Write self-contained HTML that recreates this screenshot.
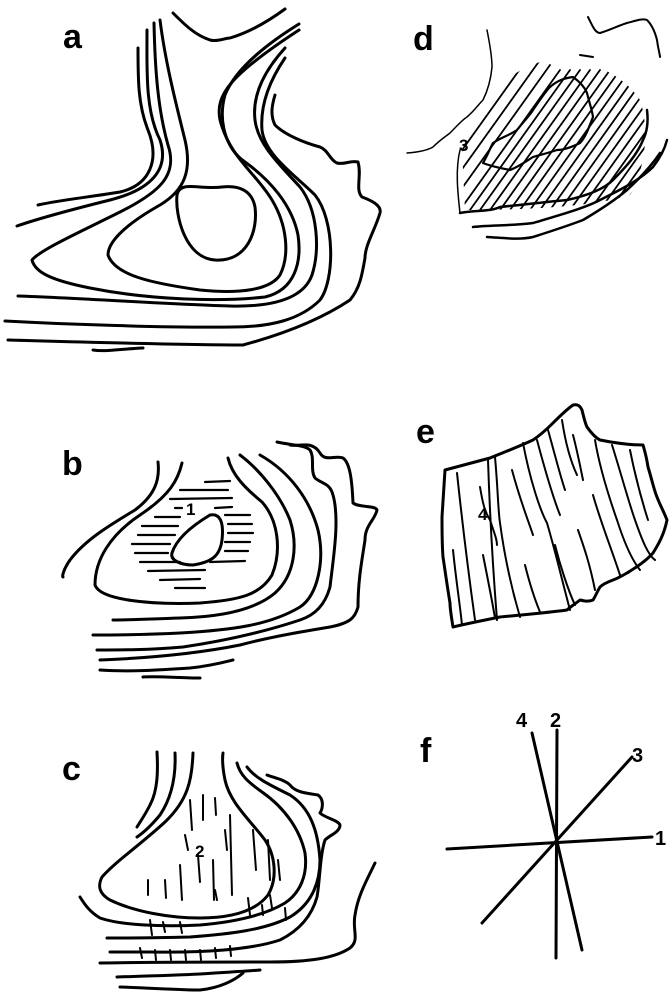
<!DOCTYPE html>
<html><head><meta charset="utf-8"><style>
html,body{margin:0;padding:0;background:#fff}
svg{display:block}
text{font-family:"Liberation Sans",sans-serif;font-weight:bold;fill:#000}
</style></head><body>
<svg width="672" height="1000" viewBox="0 0 672 1000" xmlns="http://www.w3.org/2000/svg">
<defs>
<clipPath id="dc"><path d="M462,150 C470,110 500,75 540,62 C580,55 620,70 640,100 C650,130 645,170 630,195 C600,205 540,210 465,210 Z"/></clipPath>
</defs>
<g fill="none" stroke="#000" stroke-width="3" stroke-linecap="round" stroke-linejoin="round">
<!-- panel a -->
<path d="M177,195 C175,215 185,258 215,260 C248,262 258,230 255,207 C252,190 238,185 222,187 C200,190 180,180 177,195Z"/>
<path d="M138,48 C138,80 138,105 148,130 C160,160 150,185 120,192 C90,197 60,200 38,205"/>
<path d="M147,30 C147,70 145,110 160,140 C170,170 150,190 110,200 C70,210 40,218 17,226"/>
<path d="M154,23 C155,70 158,110 168,145 C178,175 160,192 120,212 C80,232 40,250 32,260 C35,272 50,280 90,288 C150,300 220,302 265,297 C295,290 302,262 298,235 C292,205 270,180 245,162 C225,148 218,120 225,95 C235,70 265,45 299,24"/>
<path d="M160,20 C165,60 175,100 185,140 C192,170 185,190 160,205 C130,222 108,240 108,255 C115,275 150,283 200,290 C240,294 270,290 280,275 C290,255 287,225 272,200 C255,172 230,158 220,120 C215,95 230,75 299,30"/>
<path d="M173,13 C185,25 195,35 210,40 C218,42 225,38 230,38 C250,32 270,20 285,9"/>
<path d="M285,48 C265,70 252,95 255,120 C258,145 280,165 300,187 C318,210 320,250 312,275 C303,300 270,307 230,306 C180,305 80,298 18,296"/>
<path d="M285,58 C270,80 260,105 262,130 C265,155 295,175 315,195 C335,220 335,280 320,300 C300,320 270,327 233,327 C170,328 60,324 5,321"/>
<path d="M275,95 C272,105 270,115 275,125 C285,135 305,143 320,147 C328,150 330,160 337,163 C345,165 350,160 358,162 C362,175 355,190 362,197 C370,200 382,205 380,213 C375,230 365,245 365,258 C362,275 360,288 350,300 C320,320 280,335 243,345 C180,345 80,342 8,340"/>
<path d="M93,350 C105,352 120,349 143,348"/>
<!-- panel b -->
<path d="M172,553 C176,540 190,527 210,515 C220,513 224,522 222,540 C220,555 213,562 193,565 C180,565 170,560 172,553Z"/>
<path d="M158,462 C160,480 155,495 135,510 C110,525 85,540 70,560 C63,570 62,577 63,577"/>
<path d="M182,463 C178,480 170,495 140,515 C110,535 95,560 95,585 C100,600 150,605 200,603 C240,600 260,595 272,575 C282,550 278,520 262,502 C245,488 232,475 228,458"/>
<path d="M240,455 C260,470 280,495 290,520 C298,545 295,575 275,593 C255,610 220,617 180,618 C150,619 130,620 113,620"/>
<path d="M260,455 C290,472 310,500 318,530 C325,560 318,595 300,607 C270,625 233,630 180,633 C140,635 110,635 93,635"/>
<path d="M277,442 C290,445 305,445 310,450 C315,458 310,470 315,478 C322,484 330,483 333,495 C340,520 333,560 330,587 C325,605 315,615 300,620 C270,630 230,640 183,647 C150,650 120,650 97,650"/>
<path d="M290,445 C300,447 312,440 320,453 C325,462 335,455 343,458 C350,463 352,480 353,503 C360,508 375,505 377,510 C375,520 365,525 365,540 C362,560 358,580 358,607 C355,618 350,623 330,627 C300,632 270,637 240,645 C200,653 150,658 100,660"/>
<path d="M100,670 C130,672 160,670 190,668 C210,666 225,662 233,660"/>
<path d="M143,677 C160,676 180,678 200,678"/>
<g stroke-width="2.2">
<path d="M205,482 L230,481 M180,490 L228,490 M170,499 L232,498 M175,508 L182,508 M215,508 L232,507 M155,517 L180,517 M225,515 L250,515 M142,526 L178,526 M228,524 L252,524 M138,535 L175,535 M228,533 L253,533 M132,544 L170,544 M225,542 L250,542 M135,553 L168,553 M225,551 L248,551 M140,562 L180,562 M210,562 L245,561 M148,571 L205,570 M160,580 L200,579 M175,588 L205,588"/>
</g>
<!-- panel c -->
<path d="M157,752 C158,770 158,790 150,805 C145,815 140,822 137,827"/>
<path d="M175,753 C176,775 172,797 160,815 C150,827 143,833 137,837"/>
<path d="M193,753 C192,780 188,800 165,822 C140,845 115,862 102,877 C98,885 98,893 110,900 C135,912 170,918 200,918 C230,918 255,912 268,895 C278,878 275,855 265,840 C250,820 230,803 225,780 C223,770 222,760 223,753"/>
<path d="M237,763 C240,775 248,782 262,792 C285,808 300,830 305,853 C308,875 300,893 285,903 C265,915 235,922 200,925 C160,927 120,925 100,918 C90,912 85,905 80,897"/>
<path d="M247,767 C255,778 270,785 290,795 C310,808 318,830 320,860 C320,885 310,905 290,917 C265,930 230,934 190,937 C150,938 120,938 107,938"/>
<path d="M267,775 C275,778 285,780 290,785 C295,792 305,793 318,795 C325,800 322,810 320,813 C325,818 338,820 340,825 C340,832 330,835 325,840 C320,855 320,880 317,897 C312,915 300,930 280,940 C250,950 200,953 150,952 C130,952 115,952 110,952"/>
<path d="M375,863 C367,880 358,895 355,915 C352,930 360,940 350,948 C335,958 310,962 270,962 C220,962 150,962 100,963"/>
<path d="M117,977 C150,976 180,975 200,974 C230,972 250,971 260,970"/>
<path d="M120,987 C150,988 180,990 200,990 C220,988 235,980 243,973"/>
<g stroke-width="2">
<path d="M190,800 L192,830 M203,795 L203,820 M215,798 L216,815 M185,835 L188,850 M165,880 L166,898 M180,865 L182,900 M198,855 L200,882 M213,860 L214,900 M225,830 L227,850 M230,815 L232,895 M215,890 L217,900 M148,880 L148,895 M253,830 L256,870 M268,840 L270,880 M278,860 L280,880 M270,895 L272,908 M262,905 L263,915 M248,898 L250,915 M285,908 L286,920 M150,920 L152,935 M163,922 L165,932 M180,922 L182,933 M140,948 L142,958 M155,950 L156,960 M170,950 L171,960 M185,950 L186,960 M200,950 L201,960 M215,948 L216,958 M230,946 L231,956"/>
</g>
<!-- panel d -->
<path d="M460,213 C475,210 490,212 500,207 C520,205 545,202 567,200 C590,195 605,188 613,180 C625,168 637,155 643,140 C648,130 648,118 647,110" stroke-width="2.5"/>
<path d="M473,227 C490,225 510,226 533,223 C560,215 585,208 600,200 C620,190 640,180 653,167 C660,158 665,148 667,140" stroke-width="2.5"/>
<path d="M487,237 C505,238 520,240 533,237 C555,230 570,225 583,220 C600,210 615,200 627,190 C640,178 652,165 660,153" stroke-width="2.5"/>
<path d="M483,163 C488,155 490,148 493,143 C500,138 510,135 517,130 C525,120 530,115 533,110 C540,100 545,92 550,87 C558,80 565,78 573,77 C580,82 585,88 587,93 C590,105 592,110 593,117 C588,130 585,138 580,143 C570,148 562,150 557,150 C548,153 540,155 533,157 C525,162 518,167 510,170 C500,168 490,166 483,163" stroke-width="2.2"/>
<path d="M407,153 C420,152 428,150 433,147 C440,140 445,137 450,133 C458,125 462,120 467,117 C475,110 478,105 483,100 C488,90 491,78 492,67 C492,55 489,40 487,30" stroke-width="1.5"/>
<path d="M460,150 C455,170 458,195 460,213" stroke-width="1.5"/>
<path d="M588,17 C592,25 595,33 600,33 C610,30 620,25 627,23 C635,21 642,18 647,20 C652,25 655,32 657,40 C658,48 660,55 660,57" stroke-width="2"/>
<path d="M580,55 L593,57" stroke-width="2"/>
<g clip-path="url(#dc)" stroke-width="1.8">
<path d="M440,200 L540,60 M450,205 L550,65 M460,210 L560,70 M470,210 L570,70 M480,210 L580,70 M490,210 L590,70 M500,210 L600,70 M510,210 L610,70 M520,210 L620,70 M530,210 L630,70 M540,210 L640,70 M550,210 L650,70 M560,210 L660,70 M570,210 L670,70 M580,210 L680,70 M590,210 L690,70 M600,210 L700,70 M610,210 L710,70 M620,210 L720,70 M430,195 L530,55"/>
</g>
<!-- panel e -->
<path d="M445,470 C460,466 475,462 490,458 C505,452 520,446 533,440 C542,434 548,428 553,423 C560,416 566,410 573,405 C578,404 580,406 582,410 C584,418 585,423 587,427 C592,434 596,438 600,440 C615,443 630,445 643,445 C646,455 647,460 648,467 C652,480 654,490 657,497 C660,505 664,512 667,520 C664,535 658,545 653,553 C645,562 635,568 627,573 C620,577 616,579 613,580 C605,583 602,585 600,587 C597,592 595,597 593,600 C588,602 584,601 580,600 C575,604 570,607 567,610 C545,613 520,615 500,617 C480,621 465,624 453,627 C451,615 450,608 450,603 C447,585 445,570 443,557 C442,545 442,530 442,517 C443,500 444,485 445,470Z"/>
<g stroke-width="2">
<path d="M457,473 C462,520 468,570 475,620 M453,550 C456,580 460,605 462,625 M488,460 C490,520 493,570 497,620 M495,457 C498,490 498,510 500,523 C505,560 512,590 520,617 M480,487 C483,505 485,512 490,520 C495,535 497,540 497,545 M483,555 C488,580 492,600 495,618 M523,443 C530,480 540,510 547,523 C555,550 562,580 570,610 M512,470 C520,500 528,520 533,535 M525,565 C530,585 535,600 540,612 M537,440 C545,470 552,495 560,515 M548,430 C555,455 560,475 565,490 M555,545 C560,565 568,590 575,605 M562,420 C565,440 570,460 577,475 M573,435 C577,450 580,465 583,480 M593,495 C600,520 610,545 620,575 M578,530 C585,550 590,565 595,590 M595,440 C600,470 610,500 617,520 C625,545 632,560 640,570 M612,445 C620,470 628,500 635,520 C642,540 648,555 655,560 M630,450 C635,475 640,495 648,520"/>
</g>
<!-- panel f -->
<path d="M447,849 L652,837"/>
<path d="M557,730 L556,958"/>
<path d="M632,757 L482,923"/>
<path d="M532,733 L582,950"/>
</g>
<text x="63" y="48" font-size="34">a</text>
<text x="62" y="475" font-size="34">b</text>
<text x="62" y="780" font-size="34">c</text>
<text x="413" y="50" font-size="34">d</text>
<text x="416" y="443" font-size="34">e</text>
<text x="420" y="762" font-size="34">f</text>
<text x="186" y="515" font-size="17">1</text>
<text x="195" y="857" font-size="17">2</text>
<text x="459" y="151" font-size="17">3</text>
<text x="478" y="520" font-size="17">4</text>
<text x="655" y="845" font-size="20">1</text>
<text x="550" y="727" font-size="20">2</text>
<text x="632" y="762" font-size="20">3</text>
<text x="516" y="727" font-size="20">4</text>
</svg>
</body></html>
